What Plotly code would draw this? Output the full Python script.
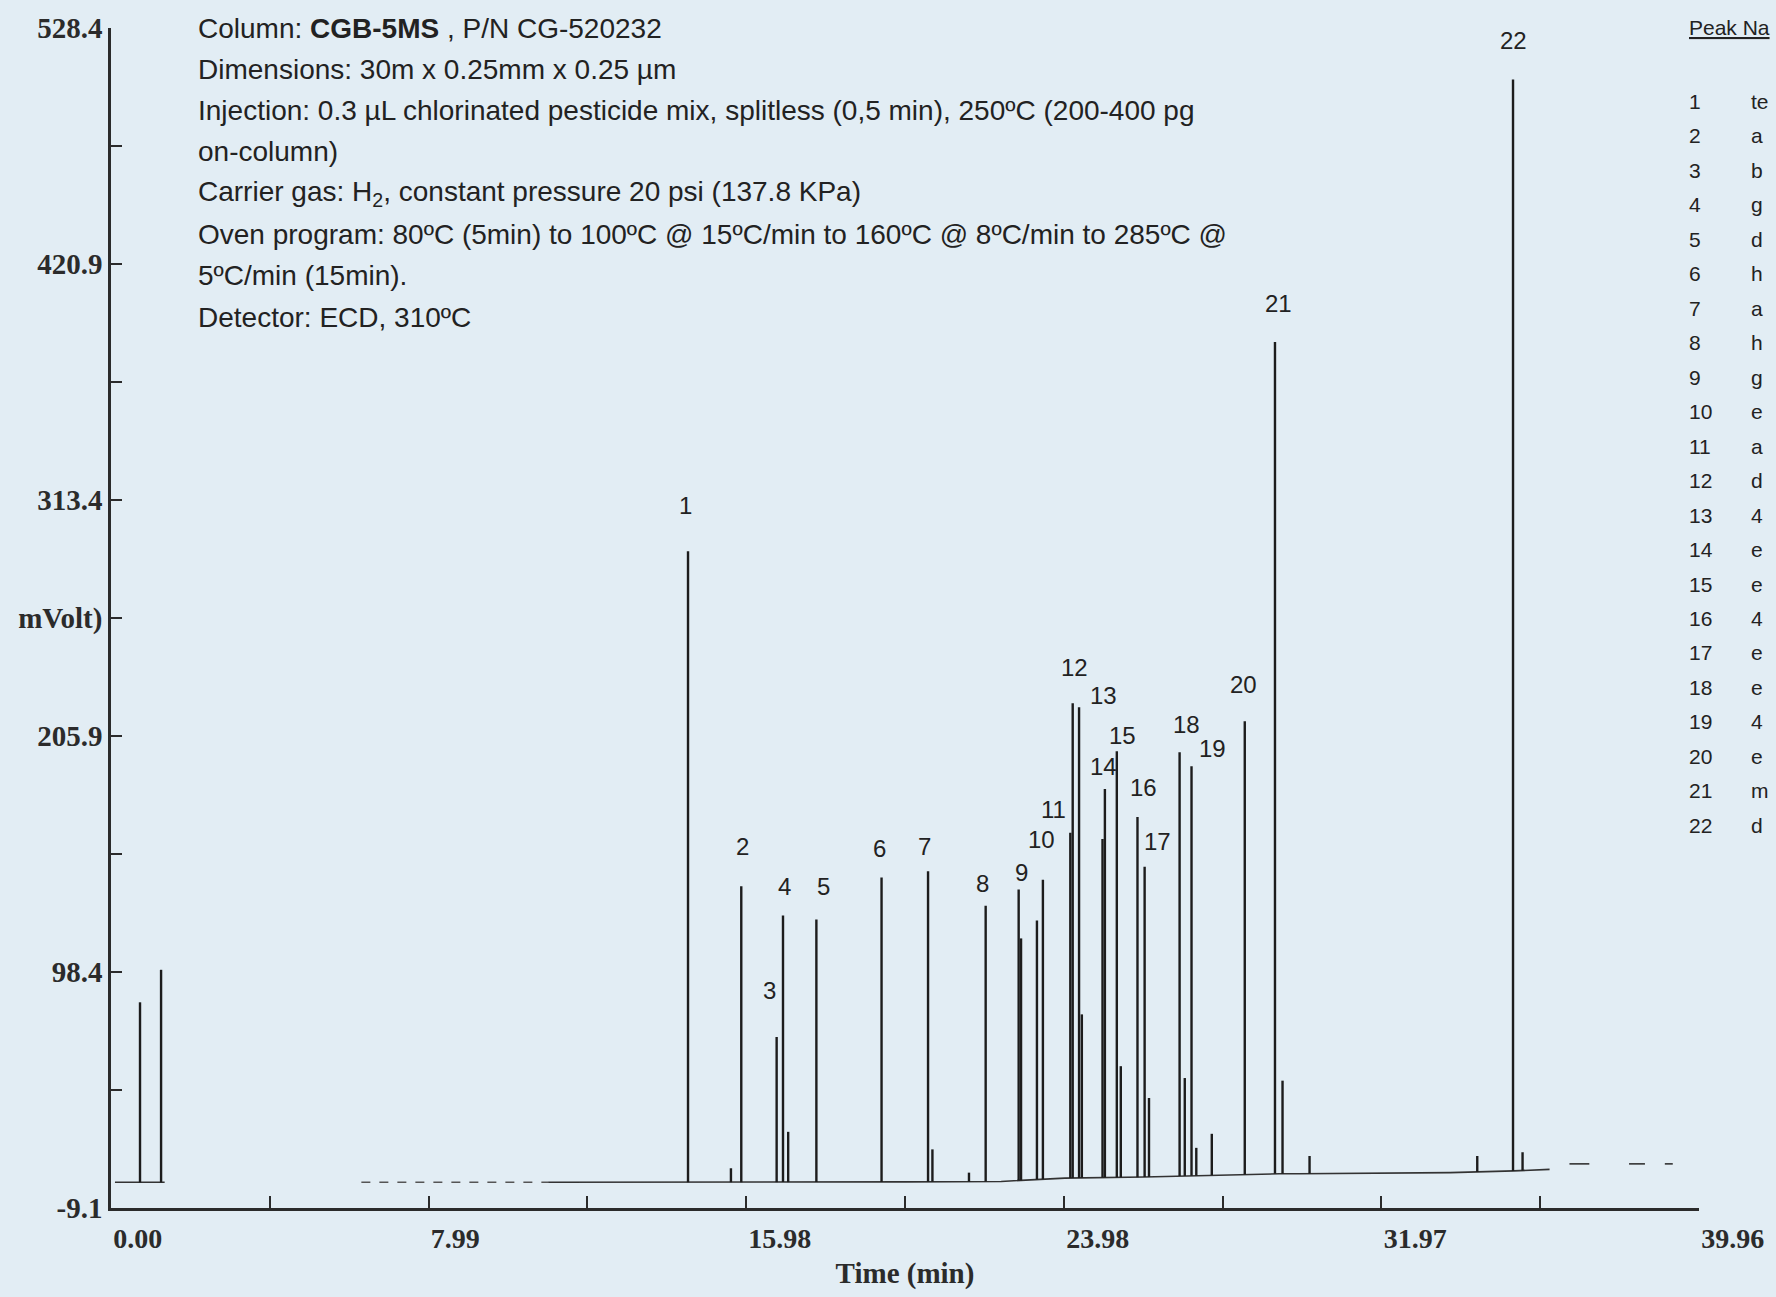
import numpy as np
import plotly.graph_objects as go

# ---------------- data ----------------
peak_numbers = list(range(1, 23))
# peak names as far as they are visible at the right edge of the reference
peak_names_visible = ["te", "a", "b", "g", "d", "h", "a", "h", "g", "e", "a",
                      "d", "4", "e", "e", "4", "e", "e", "4", "e", "m", "d"]
peak_times = [14.52, 15.86, 16.75, 16.91, 17.75, 19.39, 20.56, 22.01, 22.84, 23.45, 24.14,
              24.20, 24.36, 25.01, 25.31, 25.83, 26.01, 26.89, 27.19, 28.53, 29.29, 35.28]
peak_heights = [290.0, 137.5, 68.8, 124.1, 122.3, 141.4, 144.3, 128.6, 136.0, 140.4, 161.8,
                220.8, 219.0, 181.8, 199.0, 169.0, 146.3, 198.5, 192.1, 212.6, 385.4, 504.9]

minor_times = [0.73, 1.26, 15.60, 17.04, 20.67, 21.59, 22.90, 23.30, 24.43, 24.95, 25.41,
               26.12, 27.02, 27.31, 27.70, 29.48, 30.16, 34.38, 35.52]
minor_heights = [84.6, 99.4, 9.0, 25.6, 17.6, 7.0, 113.7, 121.9, 79.1, 159.0, 55.5,
                 41.0, 50.1, 18.3, 24.7, 48.9, 14.6, 14.6, 16.3]

# solid baseline pieces
baseline_times = [0.10, 1.35, None, 11.00, 14.40, 20.00, 22.40, 24.00, 26.00, 28.00, 29.40,
                  29.90, 33.70, 35.30, 36.20, None, 36.70, 37.20, None, 38.20, 38.60, None,
                  39.10, 39.30]
baseline_values = [2.6, 2.6, None, 2.6, 2.6, 2.8, 3.0, 4.5, 5.0, 6.0, 6.5,
                   6.5, 7.0, 7.8, 8.5, None, 11.0, 11.0, None, 11.0, 11.0, None,
                   11.0, 11.0]
# faint, broken baseline piece
faint_baseline_times = [6.30, 11.00]
faint_baseline_values = [2.6, 2.6]

y_tickvals = [-9.1, 98.4, 205.9, 259.65, 313.4, 420.9, 528.4]
y_ticktext = ["-9.1", "98.4", "205.9", "mVolt)", "313.4", "420.9", "528.4"]
y_minor_ticks = [44.65, 152.15, 367.15, 474.65]
x_tickvals = [0.00, 7.99, 15.98, 23.98, 31.97, 39.96]
x_ticktext = ["0.00", "7.99", "15.98", "23.98", "31.97", "39.96"]
x_minor_ticks = [3.995, 11.985, 19.98, 27.975, 35.965]

info_lines = [
    "Column: <b>CGB-5MS</b> , P/N CG-520232",
    "Dimensions: 30m x 0.25mm x 0.25 µm",
    "Injection: 0.3 µL chlorinated pesticide mix, splitless (0,5 min), 250ºC (200-400 pg",
    "on-column)",
    "Carrier gas: H<sub>2</sub>, constant pressure 20 psi (137.8 KPa)",
    "Oven program: 80ºC (5min) to 100ºC @ 15ºC/min to 160ºC @ 8ºC/min to 285ºC @",
    "5ºC/min (15min).",
    "Detector: ECD, 310ºC",
]

# ---------------- layout constants ----------------
W, H = 1776, 1297
ML, MR, MT, MB = 111, 69, 25, 64
PW, PH = W - ML - MR, H - MT - MB
BG = "#e2edf4"
INK = "#222222"
AXINK = "#2b2b2b"
SERIF = "Liberation Serif, Times New Roman, serif"
SANS = "Liberation Sans, Arial, sans-serif"


def px2x(px):
    return (px - ML) / PW


def py2y(py):
    return (H - MB - py) / PH


# label offsets (pixels) relative to each peak apex
label_dx = [-3, 1, -7, 1, 7, -2, -4, -3, 3, -1, -17, 2, 24, -1, 6, 6, 13, 7, 21, -1, 4, 0]
label_dy = [46, 40, 46, 29, 33, 29, 25, 22, 17, 40, 23, 36, 12, 22, 16, 30, 25, 28, 18, 37, 38, 39]

bt = np.array([t for t in baseline_times if t is not None] + faint_baseline_times)
bv = np.array([v for v in baseline_values if v is not None] + faint_baseline_values)
order = np.argsort(bt)
bt, bv = bt[order], bv[order]

# spikes
sx, sy = [], []
for t, h in list(zip(peak_times, peak_heights)) + list(zip(minor_times, minor_heights)):
    b = float(np.interp(t, bt, bv))
    sx += [t, t, None]
    sy += [b, h, None]

fig = go.Figure()
fig.add_trace(go.Scatter(x=faint_baseline_times, y=faint_baseline_values, mode="lines",
                         line=dict(color="#555555", width=1.6, dash="dash"),
                         hoverinfo="skip", showlegend=False))
fig.add_trace(go.Scatter(x=baseline_times, y=baseline_values, mode="lines",
                         line=dict(color="#333333", width=1.6), connectgaps=False,
                         hoverinfo="skip", showlegend=False))
fig.add_trace(go.Scatter(x=sx, y=sy, mode="lines",
                         line=dict(color="#1c1c1c", width=2.4),
                         hoverinfo="skip", showlegend=False))

annotations = []
for n, t, h, dx, dy in zip(peak_numbers, peak_times, peak_heights, label_dx, label_dy):
    annotations.append(dict(x=t, y=h, xref="x", yref="y", text=str(n), showarrow=False,
                            xshift=dx, yshift=dy, xanchor="center", yanchor="middle",
                            font=dict(family=SANS, size=24, color=INK)))

for i, line in enumerate(info_lines):
    annotations.append(dict(x=px2x(196), y=py2y(25 + i * 42.3), xref="paper", yref="paper",
                            text=line, showarrow=False, xanchor="left", yanchor="middle",
                            font=dict(family=SANS, size=28, color=INK)))

annotations.append(dict(x=px2x(1695), y=py2y(24), xref="paper", yref="paper",
                        text="<u>Peak Na</u>", showarrow=False, xanchor="left",
                        yanchor="middle", font=dict(family=SANS, size=21, color=INK)))
for i, (n, name) in enumerate(zip(peak_numbers, peak_names_visible)):
    yy = py2y(100 + i * 35.3)
    annotations.append(dict(x=px2x(1695), y=yy, xref="paper", yref="paper", text=str(n),
                            showarrow=False, xanchor="left", yanchor="middle",
                            font=dict(family=SANS, size=21, color=INK)))
    annotations.append(dict(x=px2x(1757), y=yy, xref="paper", yref="paper", text=name,
                            showarrow=False, xanchor="left", yanchor="middle",
                            font=dict(family=SANS, size=21, color=INK)))

fig.update_layout(
    width=W, height=H,
    margin=dict(l=ML, r=MR, t=MT, b=MB, pad=0),
    paper_bgcolor=BG, plot_bgcolor=BG,
    showlegend=False,
    annotations=annotations,
    xaxis=dict(range=[0, 39.96], tickvals=x_tickvals, ticktext=x_ticktext,
               ticks="inside", ticklen=12, tickwidth=2, tickcolor=AXINK,
               minor=dict(tickvals=x_minor_ticks, ticks="inside", ticklen=12,
                          tickwidth=2, tickcolor=AXINK, showgrid=False),
               showline=True, linecolor=AXINK, linewidth=2.5,
               showgrid=False, zeroline=False,
               ticklabelposition="outside right", ticklabelstandoff=4,
               tickfont=dict(family=SERIF, size=28, color=AXINK, weight="bold"),
               title=dict(text="Time (min)", standoff=10,
                          font=dict(family=SERIF, size=29, color=AXINK, weight="bold"))),
    yaxis=dict(range=[-9.1, 528.4], tickvals=y_tickvals, ticktext=y_ticktext,
               ticks="inside", ticklen=11, tickwidth=2, tickcolor=AXINK,
               minor=dict(tickvals=y_minor_ticks, ticks="inside", ticklen=11,
                          tickwidth=2, tickcolor=AXINK, showgrid=False),
               showline=True, linecolor=AXINK, linewidth=2.5,
               showgrid=False, zeroline=False, ticklabelstandoff=0,
               tickfont=dict(family=SERIF, size=29, color=AXINK, weight="bold")),
)

fig.write_html("out.html",
               config={"displayModeBar": False},
               post_script="document.body.style.margin='0';"
                           "document.body.style.overflow='hidden';")
